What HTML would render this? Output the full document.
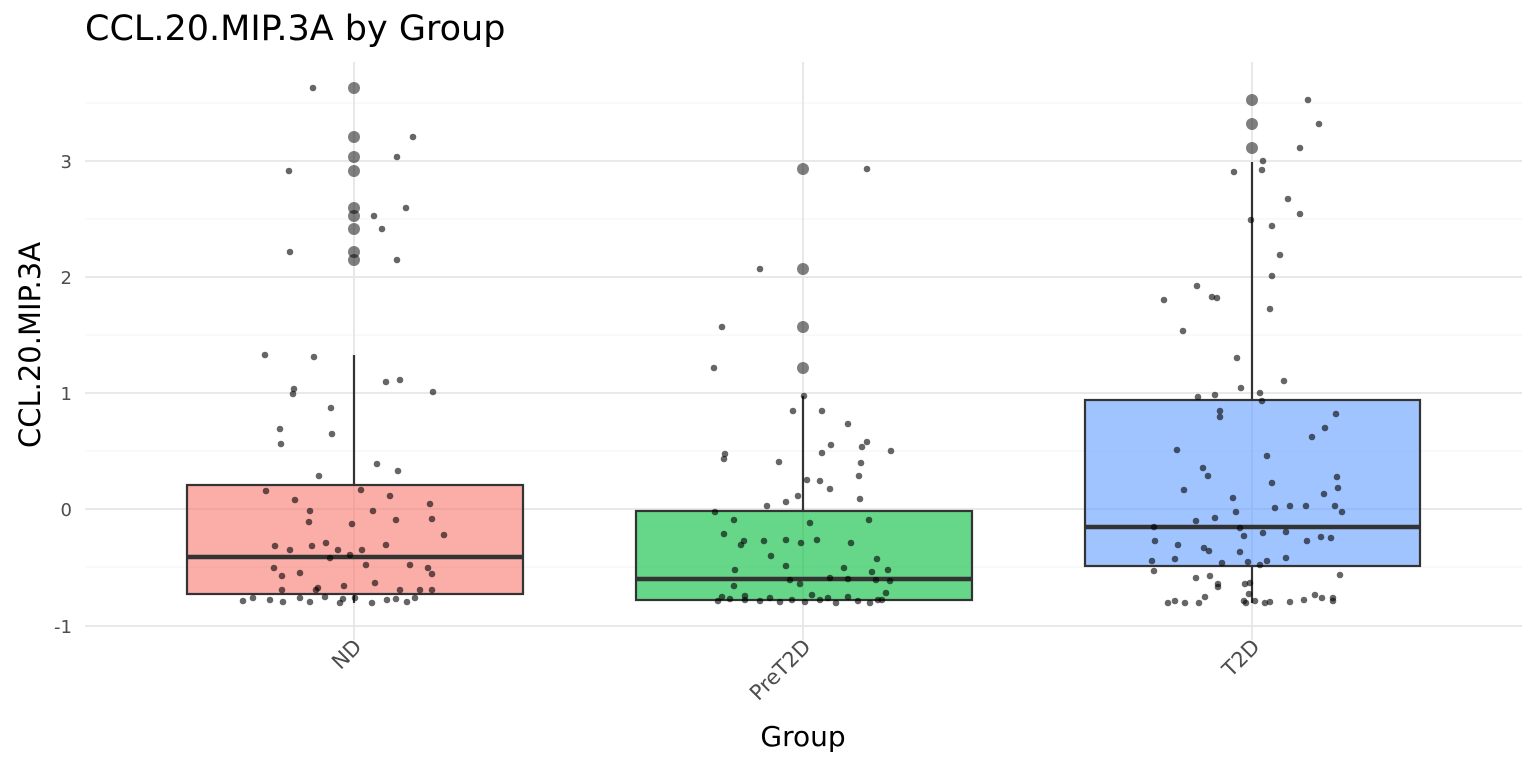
<!DOCTYPE html>
<html><head><meta charset="utf-8"><style>
html,body{margin:0;padding:0;background:#fff;}
svg{display:block;font-family:"DejaVu Sans","Liberation Sans",sans-serif;}
</style></head><body>
<svg id="s" width="1536" height="768" viewBox="0 0 1536 768" xmlns="http://www.w3.org/2000/svg">
<rect width="1536" height="768" fill="#fff"/>
<g stroke="#f3f3f3" stroke-width="1">
<line x1="85" x2="1522" y1="103" y2="103"/><line x1="85" x2="1522" y1="219" y2="219"/><line x1="85" x2="1522" y1="335" y2="335"/><line x1="85" x2="1522" y1="451" y2="451"/><line x1="85" x2="1522" y1="567" y2="567"/>
</g>
<g stroke="#e6e6e6" stroke-width="1.8">
<line x1="85" x2="1522" y1="161" y2="161"/><line x1="85" x2="1522" y1="277" y2="277"/><line x1="85" x2="1522" y1="393" y2="393"/><line x1="85" x2="1522" y1="509" y2="509"/><line x1="85" x2="1522" y1="626" y2="626"/>
<line x1="354" x2="354" y1="62" y2="640"/><line x1="803" x2="803" y1="62" y2="640"/><line x1="1252" x2="1252" y1="62" y2="640"/>
</g>
<g stroke="#333" stroke-width="2.2">
<line x1="354" x2="354" y1="355" y2="485"/><line x1="354" x2="354" y1="594" y2="603"/>
<rect x="187" y="485" width="336" height="109" fill="#f8766d" fill-opacity="0.6"/>
<line x1="187" x2="523" y1="557" y2="557" stroke-width="4.5"/>
<line x1="803" x2="803" y1="396" y2="511"/>
<rect x="636" y="511" width="336" height="89" fill="#00ba38" fill-opacity="0.6"/>
<line x1="636" x2="972" y1="579" y2="579" stroke-width="4.5"/>
<line x1="1252" x2="1252" y1="162" y2="400"/><line x1="1252" x2="1252" y1="566" y2="603"/>
<rect x="1085" y="400" width="335" height="166" fill="#619cff" fill-opacity="0.6"/>
<line x1="1085" x2="1420" y1="527" y2="527" stroke-width="4.5"/>
</g>
<g id="pts"></g>
<g fill="#4d4d4d" font-size="18" text-anchor="end">
<text x="72" y="168">3</text><text x="72" y="284">2</text><text x="72" y="400">1</text><text x="72" y="516">0</text><text x="72" y="633">-1</text>
</g>
<g fill="#4d4d4d" font-size="21" text-anchor="end">
<text transform="translate(363,648) rotate(-45)">ND</text>
<text transform="translate(812,648) rotate(-45)">PreT2D</text>
<text transform="translate(1261,648) rotate(-45)">T2D</text>
</g>
<text x="803" y="746" font-size="28" text-anchor="middle" fill="#000">Group</text>
<text transform="translate(40,345) rotate(-90)" font-size="29" text-anchor="middle" fill="#000">CCL.20.MIP.3A</text>
<text x="85" y="40" font-size="35" fill="#000">CCL.20.MIP.3A by Group</text>
</svg>
<script>
var small=[[313,88],[289,171],[290,252],[265,355],[314,357],[294,389],[293,394],[331,408],[280,429],[281,444],[332,434],[413,137],[397,157],[406,208],[374,216],[382,229],[397,260],[386,382],[400,380],[433,392],[377,464],[398,471],[319,476],[266,491],[295,500],[310,511],[309,522],[361,490],[390,496],[430,504],[432,519],[444,535],[396,520],[373,511],[352,524],[275,546],[290,550],[312,546],[326,543],[338,550],[350,555],[362,550],[386,545],[300,573],[274,568],[282,576],[330,558],[366,565],[410,565],[428,568],[432,574],[375,583],[318,588],[344,586],[400,590],[420,590],[432,590],[243,601],[253,598],[270,600],[283,602],[300,598],[310,602],[316,590],[325,597],[340,603],[343,599],[355,598],[372,603],[387,600],[396,599],[407,602],[415,598],[282,590],
[760,269],[867,169],[722,327],[714,368],[793,411],[831,445],[725,454],[724,459],[779,462],[862,447],[867,442],[891,451],[848,424],[861,463],[822,453],[859,476],[830,489],[820,481],[807,480],[860,499],[715,512],[734,520],[767,506],[786,502],[798,496],[810,523],[869,520],[724,534],[744,541],[741,545],[764,541],[786,540],[801,543],[817,540],[851,543],[877,559],[872,572],[844,568],[735,570],[771,556],[786,566],[790,580],[800,584],[830,578],[848,579],[876,580],[890,581],[888,570],[734,586],[722,597],[718,601],[730,599],[745,600],[760,601],[770,598],[780,602],[792,600],[805,602],[820,600],[828,598],[836,603],[848,597],[858,601],[870,603],[882,600],[886,593],[878,600],[822,411],[804,396],[745,596],[812,595],
[1308,100],[1319,124],[1263,161],[1300,148],[1262,170],[1234,172],[1288,199],[1300,214],[1272,226],[1251,220],[1280,255],[1272,276],[1197,286],[1164,300],[1217,298],[1212,297],[1270,309],[1183,331],[1237,358],[1284,381],[1241,388],[1215,395],[1260,393],[1198,397],[1220,411],[1220,417],[1262,401],[1336,414],[1325,428],[1312,437],[1177,450],[1267,456],[1203,468],[1208,476],[1184,490],[1233,498],[1272,483],[1306,506],[1275,508],[1290,506],[1324,494],[1337,477],[1338,488],[1335,506],[1342,512],[1331,538],[1321,537],[1236,512],[1240,528],[1196,521],[1154,527],[1155,541],[1178,545],[1209,551],[1222,563],[1204,548],[1215,518],[1244,536],[1263,533],[1286,532],[1307,541],[1286,558],[1248,562],[1260,565],[1267,561],[1175,559],[1152,561],[1210,576],[1196,578],[1154,571],[1218,584],[1245,584],[1340,575],[1175,601],[1168,603],[1185,603],[1199,603],[1205,597],[1218,587],[1244,601],[1249,594],[1255,601],[1265,603],[1270,602],[1290,602],[1304,600],[1315,595],[1322,598],[1333,601],[1333,598],[1250,583],[1246,603],[1240,552]];
var big=[[354,88],[354,137],[354,157],[354,171],[354,208],[354,216],[354,229],[354,252],[354,260],[803,169],[803,269],[803,327],[803,368],[1252,100],[1252,124],[1252,148]];
var g=document.getElementById('pts'),h='';
big.forEach(function(p){h+='<circle cx="'+p[0]+'" cy="'+p[1]+'" r="6" fill="#000" fill-opacity="0.5"/>';});
small.forEach(function(p){h+='<circle cx="'+p[0]+'" cy="'+p[1]+'" r="3.3" fill="#000" fill-opacity="0.6"/>';});
g.innerHTML=h;
</script>
</body></html>
